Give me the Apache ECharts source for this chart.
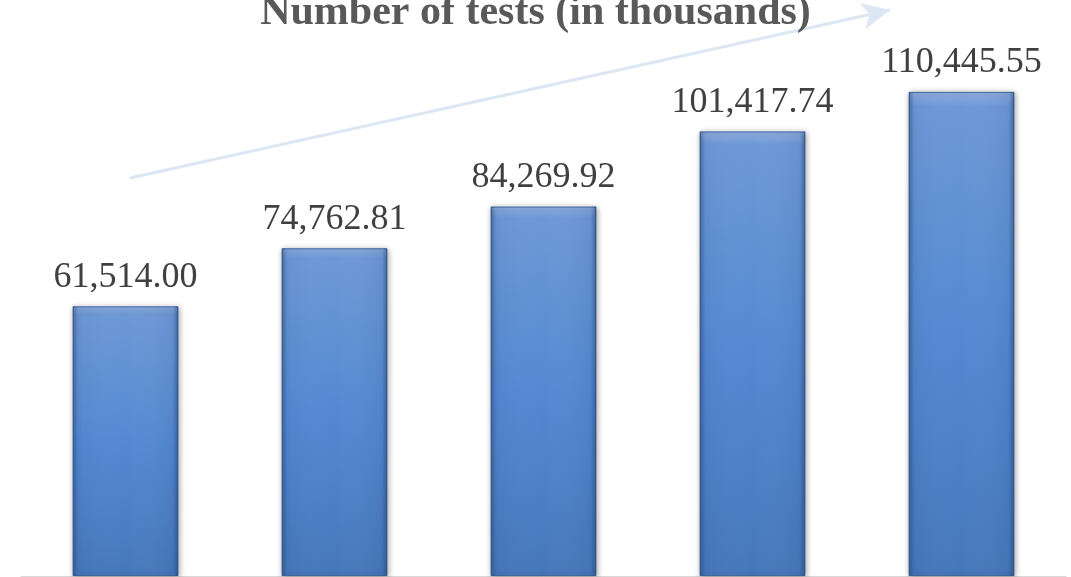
<!DOCTYPE html>
<html>
<head>
<meta charset="utf-8">
<script src="https://cdn.jsdelivr.net/npm/echarts@6/dist/echarts.min.js"></script>
<style>
  html, body { margin: 0; padding: 0; background: #fff; }
  #chart { width: 1071px; height: 577px; }
</style>
</head>
<body>
<div id="chart"></div>
<script>
// categories are not shown on the picture, one per bar
const categories = ['1', '2', '3', '4', '5'];
const testValues = [61514.0, 74762.81, 84269.92, 101417.74, 110445.55];

const chart = echarts.init(document.getElementById('chart'));

const fmt = (v) =>
  v.toLocaleString('en-US', { minimumFractionDigits: 2, maximumFractionDigits: 2 });

chart.setOption({
  animation: false,
  title: {
    text: 'Number of tests (in thousands)',
    left: 'center',
    top: -13,
    textStyle: {
      fontFamily: 'Liberation Serif',
      fontWeight: 'bold',
      fontSize: 42,
      color: '#595959',
    },
  },
  grid: { left: 21, right: 5, top: 50, bottom: 1 },
  xAxis: {
    type: 'category',
    data: categories,
    axisLine: { show: true, lineStyle: { color: '#d9d9d9', width: 1 } },
    axisTick: { show: false },
    axisLabel: { show: false },
  },
  yAxis: {
    type: 'value',
    min: 0,
    max: 120000,
    show: false,
    splitLine: { show: false },
  },
  series: [
    {
      // main bars
      type: 'bar',
      data: testValues,
      barWidth: '50.5%',
      z: 2,
      itemStyle: {
        color: new echarts.graphic.LinearGradient(0, 0, 0, 1, [
          { offset: 0, color: '#8fb0e2' },
          { offset: 0.03, color: '#6d98d6' },
          { offset: 0.5, color: '#5389d2' },
          { offset: 1, color: '#4677bb' },
        ]),
        borderColor: '#3d679f',
        borderWidth: 1,
        shadowColor: 'rgba(0,0,0,0.35)',
        shadowBlur: 6,
        shadowOffsetX: 1,
        shadowOffsetY: 1,
      },
      label: {
        show: true,
        position: 'top',
        distance: 11,
        formatter: (p) => fmt(p.value),
        fontFamily: 'Liberation Serif',
        fontSize: 36,
        color: '#404040',
      },
    },
    {
      // bevel overlay, darker at the sides
      type: 'bar',
      data: testValues,
      barWidth: '50.5%',
      barGap: '-100%',
      z: 3,
      silent: true,
      itemStyle: {
        color: new echarts.graphic.LinearGradient(0, 0, 1, 0, [
          { offset: 0, color: 'rgba(30,60,110,0.45)' },
          { offset: 0.05, color: 'rgba(30,60,110,0.05)' },
          { offset: 0.5, color: 'rgba(255,255,255,0.0)' },
          { offset: 0.95, color: 'rgba(30,60,110,0.08)' },
          { offset: 1, color: 'rgba(30,60,110,0.5)' },
        ]),
      },
      markLine: {
        silent: true,
        symbol: ['none', 'arrow'],
        symbolSize: [20, 28],
        label: { show: false },
        lineStyle: { color: '#dde7f3', width: 3, type: 'solid' },
        data: [[{ x: 130, y: 178 }, { x: 890, y: 10 }]],
      },
    },
  ],
});
</script>
</body>
</html>
